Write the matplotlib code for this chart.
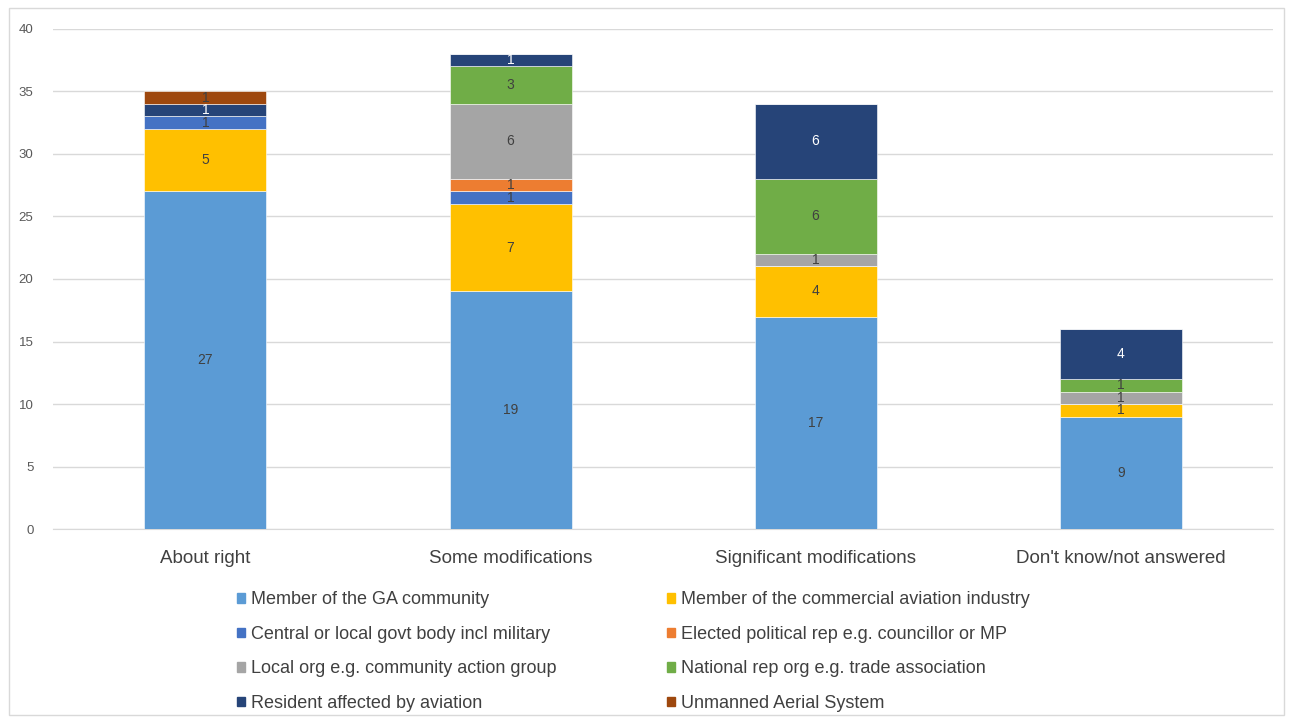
import matplotlib.pyplot as plt
from matplotlib.patches import Patch, Rectangle
import numpy as np

plt.rcParams['font.family'] = ['Liberation Sans', 'DejaVu Sans']

#data---------------------------------------------------------------------------
categories = ["About right", "Some modifications", "Significant modifications",
              "Don't know/not answered"]
groups = ["Member of the GA community",
          "Member of the commercial aviation industry",
          "Central or local govt body incl military",
          "Elected political rep e.g. councillor or MP",
          "Local org e.g. community action group",
          "National rep org e.g. trade association",
          "Resident affected by aviation",
          "Unmanned Aerial System"]
ga = [27, 19, 17, 9]
commercial = [5, 7, 4, 1]
central = [1, 1, 0, 0]
elected = [0, 1, 0, 0]
local_org = [0, 6, 1, 1]
national = [0, 3, 6, 1]
resident = [1, 1, 6, 4]
uas = [1, 0, 0, 0]
colors = ["#5B9BD5", "#FFC000", "#4472C4", "#ED7D31",
          "#A5A5A5", "#70AD47", "#264478", "#9E480E"]

series = [ga, commercial, central, elected, local_org, national, resident, uas]

#plot---------------------------------------------------------------------------
fig = plt.figure(figsize=(12.9, 7.19), dpi=100)
ax = fig.add_axes([0.041, 0.264, 0.946, 0.696])

x = np.arange(len(categories))
bottom = np.zeros(len(categories))
for vals, col, name in zip(series, colors, groups):
    vals = np.array(vals, dtype=float)
    bars = ax.bar(x, vals, 0.4, bottom=bottom, color=col, label=name,
                  edgecolor="white", linewidth=0.4, zorder=3)
    txtcol = "white" if col == "#264478" else "#404040"
    for b, v in zip(bars, vals):
        if v > 0:
            ax.text(b.get_x() + b.get_width() / 2, b.get_y() + v / 2,
                    "%d" % v, ha="center", va="center", fontsize=10,
                    color=txtcol, zorder=4)
    bottom += vals

ax.set_ylim(0, 40)
ax.set_xlim(-0.5, 3.5)
ax.set_yticks(range(0, 41, 5))
ax.yaxis.grid(True, color="#D9D9D9", linewidth=1, zorder=0)
ax.set_xticks(x)
ax.set_xticklabels(categories, fontsize=13.5, color="#404040")
ax.tick_params(axis="y", labelsize=9.5, colors="#595959", length=0, pad=14)
ax.tick_params(axis="x", length=0, pad=15)
for s in ["top", "right", "left"]:
    ax.spines[s].set_visible(False)
ax.spines["bottom"].set_color("#D9D9D9")

# legend fills column-wise, so reorder to read across rows
order = [0, 2, 4, 6, 1, 3, 5, 7]
handles = [Patch(color=colors[i], label=groups[i]) for i in order]
fig.legend(handles=handles, loc="upper left", bbox_to_anchor=(0.171, 0.2),
           ncol=2, frameon=False, fontsize=13, handlelength=0.45,
           handleheight=0.45, handletextpad=0.35, columnspacing=6.1,
           labelspacing=0.97, labelcolor="#404040")

# chart border
fig.patches.append(Rectangle((0.007, 0.006), 0.988, 0.983, transform=fig.transFigure,
                             fill=False, edgecolor="#D9D9D9", linewidth=1))

fig.savefig("out.png", dpi=100)
